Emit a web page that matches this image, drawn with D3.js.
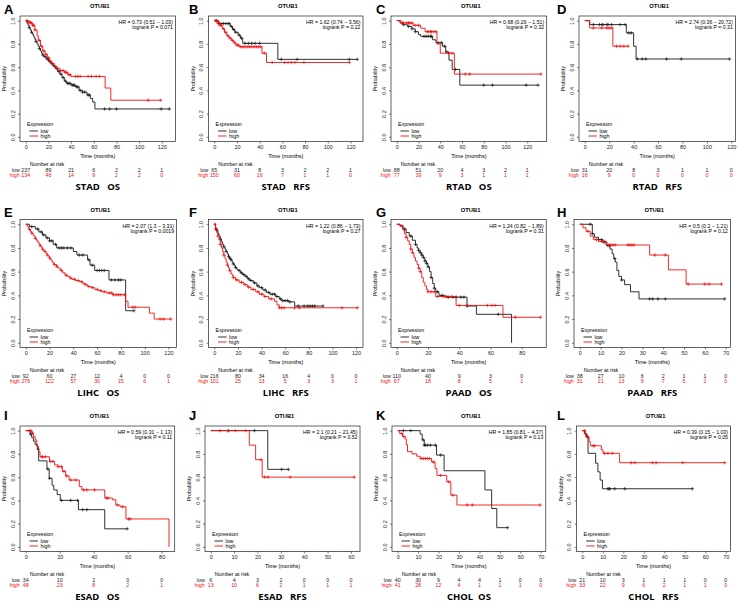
<!DOCTYPE html>
<html><head><meta charset="utf-8">
<script src="https://cdn.jsdelivr.net/npm/d3@7"></script>
<style>body{margin:0;background:#fff}svg{display:block}</style>
</head><body><svg id="c" width="738" height="603"></svg>
<script>
// ---------- DATA ----------
const letters = ["A","B","C","D","E","F","G","H","I","J","K","L"];
const cohorts = ["STAD   OS","STAD   RFS","RTAD   OS","RTAD   RFS","LIHC   OS","LIHC   RFS","PAAD   OS","PAAD   RFS","ESAD   OS","ESAD   RFS","CHOL  OS","CHOL   RFS"];
const gene = "OTUB1";
const hrText = ["HR = 0.73 (0.51 − 1.03)","HR = 1.62 (0.74 − 3.56)","HR = 0.68 (0.29 − 1.51)","HR = 2.74 (0.36 − 20.72)",
  "HR = 2.07 (1.3 − 3.31)","HR = 1.22 (0.86 − 1.73)","HR = 1.24 (0.82 − 1.89)","HR = 0.5 (0.2 − 1.21)",
  "HR = 0.59 (0.31 − 1.13)","HR = 2.1 (0.21 − 21.45)","HR = 1.85 (0.81 − 4.37)","HR = 0.39 (0.15 − 1.03)"];
const pText = ["logrank P = 0.071","logrank P = 0.22","logrank P = 0.32","logrank P = 0.31",
  "logrank P = 0.0019","logrank P = 0.27","logrank P = 0.31","logrank P = 0.12",
  "logrank P = 0.11","logrank P = 0.52","logrank P = 0.13","logrank P = 0.05"];
const xDataMax = [127,126,132.6,118.6,122,121,92,69.5,84.3,61.4,69.7,69.5];
const xTickMax = [120,120,120,120,120,120,80,70,80,60,70,70];
const xTickStep = [20,20,20,20,20,20,20,10,20,10,10,10];
const yTicks = [0,0.2,0.4,0.6,0.8,1.0];
const narLow = [[237,89,21,6,2,2,1],[65,31,8,3,2,2,1],[88,51,20,4,3,2,1],[31,20,8,3,1,1,0],
  [92,60,27,12,4,0,0],[216,80,34,16,4,0,0],[110,40,9,3,0],[38,27,10,6,2,1,1,0],
  [34,10,2,0,0],[6,4,3,2,0,0,0],[40,30,9,4,4,1,0,0],[21,10,3,1,1,1,0,0]];
const narHigh = [[134,46,14,9,2,2,0],[150,60,16,7,1,1,0],[77,39,9,3,1,1,1],[16,9,0,0,0,0,0],
  [276,122,57,30,15,6,1],[101,25,13,5,3,3,1],[67,18,8,5,1],[31,21,13,9,7,5,2,0],
  [48,23,8,2,1],[13,10,6,2,1,1,1],[41,28,12,4,1,1,1,0],[33,22,9,6,2,1,1,0]];

// survival curves: [time, survival after drop]; censor times
const stadOS_low = [[1,0.98],[2,0.96],[3,0.94],[4,0.92],[5,0.9],[6,0.88],[7,0.86],[8,0.84],[9,0.82],[10,0.8],[11,0.78],[12,0.76],[13,0.74],[14,0.72],[15,0.705],[16,0.69],[18,0.67],[20,0.65],[22,0.63],[24,0.61],[26,0.59],[28,0.565],[30,0.54],[32,0.51],[34,0.48],[36,0.46],[40,0.445],[44,0.43],[47,0.4],[50,0.385],[54,0.36],[57,0.33],[59,0.3],[61,0.24]];
const stadOS_lowCens = [3,5,9,12,15,17,19,21,23,25,27,29,31,33,35,37,38,39,41,42,43,45,46,48,50,52,55,56,69.6,74,80,119.4,126.7];
const stadOS_high = [[2,0.99],[4,0.98],[6,0.96],[8,0.92],[10,0.87],[11,0.83],[13,0.78],[15,0.74],[17,0.71],[19,0.68],[21,0.65],[23,0.63],[25,0.61],[27,0.59],[30,0.57],[34,0.555],[37,0.535],[40,0.52],[70,0.42],[75,0.315]];
const stadOS_highCens = [1,2,3,4,5,6,7,8,12,14,16,18,20,22,24,28,31,33,35,36,38,39,44,46,48,55,58,62,65,108,119];

const stadRFS_low = [[4,0.975],[14,0.95],[16,0.925],[18,0.9],[21,0.875],[23,0.85],[25,0.805],[56,0.667]];
const stadRFS_lowCens = [2,4,6,8,10,12,13,15,17,19,22,24,27,30,33,36,40,59,73,119,126];
const stadRFS_high = [[3,0.98],[5,0.96],[7,0.93],[9,0.9],[11,0.87],[13,0.85],[15,0.83],[17,0.81],[19,0.79],[22,0.775],[42,0.72],[46,0.64]];
const stadRFS_highCens = [1,2,3,5,6,8,10,12,14,16,18,20,21,23,25,27,29,31,33,35,37,39,41,44,51,62,65,68,71,79,119];

const rtadOS_low = [[3,0.98],[6,0.965],[10,0.95],[14,0.93],[17,0.905],[20,0.88],[22,0.865],[33,0.835],[36,0.81],[42,0.78],[45,0.73],[48,0.66],[51,0.58],[58,0.445]];
const rtadOS_lowCens = [6,11,14,17,25,27,29,31,32,38,41,44,46,54,80,88,119,130];
const rtadOS_high = [[4,0.98],[15,0.96],[22,0.935],[26,0.905],[37,0.8],[40,0.72],[53,0.54]];
const rtadOS_highCens = [5,6,9,11,12,14,17,20,28,29,31,32,34,36,48,51,63,67,132.6];

const rtadRFS_low = [[4,0.966],[34,0.895],[40,0.78],[42,0.67]];
const rtadRFS_lowCens = [7,12,14,15,18,19,22,29,33,36,38,43,47,50,67,79,118.6];
const rtadRFS_high = [[4,0.937],[23,0.78]];
const rtadRFS_highCens = [7,14,18,20,22,26,29,32,35.5];

const lihcOS_low = [[3,0.98],[8,0.96],[11,0.935],[14,0.91],[17,0.885],[20,0.86],[23,0.83],[26,0.8],[40,0.77],[43,0.74],[52,0.7],[54,0.655],[58,0.61],[70,0.53],[84,0.27]];
const lihcOS_lowCens = [5,10,13,15,18,20,22,25,28,30,32,35,38,45,48,53,56,60,62,64,66,72,75,78,80,91];
const lihcOS_high = [[1,0.985],[2,0.97],[3,0.955],[4,0.94],[5,0.925],[6,0.91],[7,0.895],[8,0.88],[9,0.865],[10,0.85],[11,0.835],[12,0.82],[13,0.805],[14,0.79],[15,0.78],[16,0.77],[17,0.755],[18,0.74],[19,0.73],[20,0.715],[21,0.7],[22,0.685],[23,0.67],[24,0.66],[26,0.645],[27,0.63],[29,0.61],[31,0.59],[33,0.57],[35,0.56],[37,0.545],[39,0.535],[42,0.525],[45,0.515],[48,0.5],[50,0.49],[52,0.475],[55,0.465],[58,0.45],[61,0.44],[64,0.43],[68,0.42],[73,0.405],[84,0.35],[86,0.3],[104,0.25],[108,0.2]];
const lihcOS_highCens = [3,5,8,12,14,16,18,20,24,26,30,34,38,41,44,47,50,53,56,60,63,66,70,72,74,76,78,80,83,90,92,113,116,122];

const lihcRFS_low = [[1,0.97],[2,0.95],[3,0.92],[4,0.9],[5,0.875],[6,0.85],[7,0.83],[8,0.81],[9,0.79],[10,0.77],[11,0.75],[12,0.73],[13,0.715],[14,0.7],[15,0.68],[16,0.665],[17,0.65],[18,0.635],[19,0.62],[20,0.61],[22,0.59],[24,0.575],[26,0.56],[28,0.54],[30,0.525],[33,0.505],[36,0.48],[38,0.465],[41,0.445],[44,0.425],[47,0.41],[52,0.39],[55,0.37],[57,0.355],[63,0.345],[68,0.31]];
const lihcRFS_lowCens = [2,5,8,10,12,13,14,16,18,21,23,25,27,29,31,34,37,40,43,46,49,51,53,56,58,60,62,64,71,76,79,81,83,85,92];
const lihcRFS_high = [[1,0.96],[2,0.93],[3,0.9],[4,0.87],[5,0.83],[6,0.8],[7,0.77],[8,0.74],[9,0.71],[10,0.68],[11,0.655],[12,0.63],[13,0.61],[14,0.585],[15,0.57],[16,0.55],[18,0.53],[21,0.51],[25,0.49],[28,0.47],[31,0.45],[35,0.43],[38,0.41],[42,0.39],[46,0.37],[51,0.35],[53,0.32],[55,0.295]];
const lihcRFS_highCens = [0.5,1,1.5,3,5,8,11,13,16,19,23,26,29,33,37,40,43,48,55,57,59,68,72,108,121];

const paadOS_low = [[2,0.99],[4,0.96],[6,0.93],[8,0.9],[10,0.865],[12,0.83],[13,0.8],[14,0.78],[15,0.76],[16,0.74],[17,0.72],[18,0.69],[19,0.67],[20,0.64],[21,0.6],[22,0.55],[23,0.5],[24,0.46],[25,0.43],[27,0.4],[31,0.385],[45,0.31],[51,0.24],[73.5,0]];
const paadOS_lowCens = [5,9,12,14,15,16,17,18,19,20,22,24,26,29,33,36,38,41,43,45,65];
const paadOS_high = [[2,0.985],[4,0.95],[5,0.92],[6,0.89],[7,0.86],[8,0.83],[9,0.79],[10,0.76],[11,0.72],[12,0.69],[13,0.66],[14,0.63],[15,0.6],[16,0.55],[17,0.51],[18,0.48],[19,0.45],[20,0.43],[25,0.39],[38,0.315],[68,0.215]];
const paadOS_highCens = [3,6,9,10,14,15,20,22,24,26,30,32,35,40,45,58,61,63,76,92];

const paadRFS_low = [[6,0.92],[7,0.89],[9,0.87],[11,0.85],[13,0.82],[14.5,0.79],[15.5,0.75],[16.3,0.71],[17,0.68],[17.8,0.61],[18.7,0.56],[20,0.53],[21.5,0.49],[24.3,0.43],[28.4,0.37]];
const paadRFS_lowCens = [5,6,9,10.5,11.5,13.5,14.3,16.8,20,33.5,35,37.5,41,69.5];
const paadRFS_high = [[1.5,0.97],[3,0.94],[5,0.9],[6.5,0.87],[9,0.855],[12.5,0.825],[33.5,0.74],[42.5,0.615],[51,0.495]];
const paadRFS_highCens = [4,8,10.5,12,14,15,16,17,23,24,25,26,36,41,52,60,62,68];

const esadOS_low = [[2.5,0.97],[3.5,0.94],[4.5,0.91],[5.5,0.88],[6.8,0.84],[7.6,0.74],[12.5,0.67],[13.8,0.59],[15.5,0.53],[16.5,0.49],[18.5,0.45],[20.3,0.4],[31,0.32],[46.5,0.155]];
const esadOS_lowCens = [3,7.5,13,14,21,26.5,30.5,33.5,36,59.7];
const esadOS_high = [[3.5,0.98],[4.5,0.95],[5.5,0.92],[6.5,0.865],[7.5,0.82],[8.4,0.775],[14,0.735],[17,0.705],[19,0.69],[21.5,0.65],[23.5,0.61],[25.5,0.575],[31.5,0.52],[33,0.49],[46.5,0.42],[51,0.405],[53,0.36],[55.5,0.345],[59,0.24],[84.3,0]];
const esadOS_highCens = [2,3,4,9.5,10,11.5,14.5,16,19,21,22.5,24,26.5,29.5,34,36,40.5,47.5,48.5,54,57,60.5,61.5];

const esadRFS_low = [[24.4,0.667]];
const esadRFS_lowCens = [7.5,18.7,30.3,33.2];
const esadRFS_high = [[16.5,0.875],[19.2,0.75],[22,0.6]];
const esadRFS_highCens = [4,7.5,10.5,15,21.5,23,24.5,34,61.4];

const cholOS_low = [[11,0.97],[12,0.92],[13,0.875],[19,0.79],[22.7,0.655],[42.7,0.49],[46,0.33],[48.5,0.165]];
const cholOS_lowCens = [2.8,6.4,12.5,13,13.5,14.5,16,18.5,21,53.8];
const cholOS_high = [[1,0.975],[2.4,0.95],[3.6,0.93],[4.2,0.88],[4.8,0.82],[7,0.8],[9.3,0.78],[11,0.76],[16.6,0.73],[18.3,0.675],[19.2,0.615],[24,0.56],[26,0.445],[29,0.36]];
const cholOS_highCens = [2,3,11.5,12.5,13.5,14.5,15.5,17.5,21,25,27,34,36.5,69.7];

const cholRFS_low = [[1,0.975],[2,0.95],[2.8,0.805],[6.5,0.72],[7.6,0.645],[8.7,0.575],[9.8,0.5]];
const cholRFS_lowCens = [2.2,12.5,13,13.4,15.8,20.7,53.7];
const cholRFS_high = [[1.6,0.965],[2.4,0.94],[3.3,0.905],[3.9,0.87],[9.3,0.835],[10.1,0.805],[18.2,0.724]];
const cholRFS_highCens = [1,1.9,2.9,5.2,6,10.8,12.5,14.6,23.9,25.6,34.2,36,49,69.5];

const lowCurves = [stadOS_low,stadRFS_low,rtadOS_low,rtadRFS_low,lihcOS_low,lihcRFS_low,paadOS_low,paadRFS_low,esadOS_low,esadRFS_low,cholOS_low,cholRFS_low];
const lowCens = [stadOS_lowCens,stadRFS_lowCens,rtadOS_lowCens,rtadRFS_lowCens,lihcOS_lowCens,lihcRFS_lowCens,paadOS_lowCens,paadRFS_lowCens,esadOS_lowCens,esadRFS_lowCens,cholOS_lowCens,cholRFS_lowCens];
const highCurves = [stadOS_high,stadRFS_high,rtadOS_high,rtadRFS_high,lihcOS_high,lihcRFS_high,paadOS_high,paadRFS_high,esadOS_high,esadRFS_high,cholOS_high,cholRFS_high];
const highCens = [stadOS_highCens,stadRFS_highCens,rtadOS_highCens,rtadRFS_highCens,lihcOS_highCens,lihcRFS_highCens,paadOS_highCens,paadRFS_highCens,esadOS_highCens,esadRFS_highCens,cholOS_highCens,cholRFS_highCens];

// ---------- LAYOUT (styles) ----------
const frameX = [[20,175.5],[208.6,363],[391,546.7],[579,735.4],[20,176.6],[208.6,363],[391,546.2],[574,730.5],[20,174.7],[205,360],[392,545.8],[576.6,730.5]];
const frameY = [[16,141.5],[219.5,347.5],[426,551.5]];
const letterX = [4,189,376,557];
const RED = "#f01010", BLACK = "#1a1a1a";
const FONT = "'Liberation Sans', Arial, sans-serif";

const svg = d3.select("#c");

function survAt(steps, t){ let s=1; for(const [tt,ss] of steps){ if(tt<=t) s=ss; else break;} return s; }

for(let i=0;i<12;i++){
  const row = Math.floor(i/4), col = i%4;
  const [L,R] = frameX[i], [T,B] = frameY[row];
  const xm = xDataMax[i];
  const x = d3.scaleLinear().domain([-0.04*xm, 1.04*xm]).range([L,R]);
  const y = d3.scaleLinear().domain([-0.04, 1.04]).range([B,T]);
  const g = svg.append("g");

  // panel letter
  g.append("text").attr("x", letterX[col]).attr("y", frameY[row][0] - 2.5 + (row===2?-4:0) )
    .attr("font-family", FONT).attr("font-weight","bold").attr("font-size", 13).text(letters[i]);
  // title
  g.append("text").attr("x",(L+R)/2+2).attr("y", T-8).attr("text-anchor","middle")
    .attr("font-family",FONT).attr("font-weight","bold").attr("font-size",5.8).text(gene);

  // frame
  g.append("rect").attr("x",L).attr("y",T).attr("width",R-L).attr("height",B-T)
    .attr("fill","none").attr("stroke","#222").attr("stroke-width",0.7);

  // axes
  const xt = d3.range(0, xTickMax[i]+0.001, xTickStep[i]);
  const xAxis = d3.axisBottom(x).tickValues(xt).tickSize(2).tickPadding(1.5).tickFormat(d3.format("d"));
  const ga = g.append("g").attr("transform",`translate(0,${B})`).call(xAxis);
  ga.select(".domain").remove();
  ga.selectAll("line").attr("stroke","#222").attr("stroke-width",0.6);
  ga.selectAll("text").attr("font-family",FONT).attr("font-size",5.5).attr("fill","#222");
  const yAxis = d3.axisLeft(y).tickValues(yTicks).tickSize(2).tickPadding(1.5).tickFormat(d3.format(".1f"));
  const gy = g.append("g").attr("transform",`translate(${L},0)`).call(yAxis);
  gy.select(".domain").remove();
  gy.selectAll("line").attr("stroke","#222").attr("stroke-width",0.6);
  gy.selectAll("text").attr("font-family",FONT).attr("font-size",5.5).attr("fill","#222")
    .attr("text-anchor","middle").attr("dy",0).attr("x",0)
    .attr("transform", function(d){ return `translate(-5.5,0) rotate(-90)`; });
  // axis titles
  g.append("text").attr("transform",`translate(${L-14},${(T+B)/2}) rotate(-90)`).attr("text-anchor","middle")
    .attr("font-family",FONT).attr("font-size",5.5).text("Probability");
  g.append("text").attr("x",(L+R)/2).attr("y",B+16.5).attr("text-anchor","middle")
    .attr("font-family",FONT).attr("font-size",5.5).text("Time (months)");

  // HR text
  g.append("text").attr("x",R-2.5).attr("y",T+8).attr("text-anchor","end")
    .attr("font-family",FONT).attr("font-size",5.2).text(hrText[i]);
  g.append("text").attr("x",R-2.5).attr("y",T+13).attr("text-anchor","end")
    .attr("font-family",FONT).attr("font-size",5.2).text(pText[i]);

  // curves
  const line = d3.line().x(d=>x(d[0])).y(d=>y(d[1])).curve(d3.curveStepAfter);
  const groups = [[lowCurves[i], lowCens[i], BLACK],[highCurves[i], highCens[i], RED]];
  for(const [steps, cens, color] of groups){
    const endT = Math.max(steps[steps.length-1][0], d3.max(cens));
    const pts = [[0,1], ...steps, [endT, steps[steps.length-1][1]]];
    g.append("path").attr("d", line(pts)).attr("fill","none").attr("stroke",color).attr("stroke-width",0.9);
    const cs = 1.7;
    g.append("g").selectAll("path").data(cens).join("path")
      .attr("d", c => { const cx=x(c), cy=y(survAt(steps,c)); return `M${cx-cs},${cy}H${cx+cs}M${cx},${cy-cs}V${cy+cs}`; })
      .attr("stroke",color).attr("stroke-width",0.7);
  }

  // legend
  g.append("text").attr("x",L+7).attr("y",B-15.5).attr("font-family",FONT).attr("font-size",5.3).text("Expression");
  const lg = [["low",BLACK],["high",RED]];
  lg.forEach(([lab,color],k)=>{
    const yy = B-10.5+k*5;
    g.append("line").attr("x1",L+9.5).attr("x2",L+18).attr("y1",yy).attr("y2",yy).attr("stroke",color).attr("stroke-width",0.9);
    g.append("text").attr("x",L+20.5).attr("y",yy+1.8).attr("font-family",FONT).attr("font-size",5.3).text(lab);
  });

  // number at risk
  g.append("text").attr("x",x(0)+4).attr("y",B+24.5).attr("font-family",FONT).attr("font-size",5.3).text("Number at risk");
  const rows = [["low",narLow[i],BLACK],["high",narHigh[i],RED]];
  rows.forEach(([lab,vals,color],k)=>{
    const yy = B+30.5+k*5;
    g.append("text").attr("x",x(0)-6).attr("y",yy).attr("text-anchor","end").attr("font-family",FONT)
      .attr("font-size",5.3).attr("fill",color).text(lab);
    g.append("g").selectAll("text").data(vals).join("text")
      .attr("x",(d,j)=>x(j*xTickStep[i])).attr("y",yy).attr("text-anchor","middle")
      .attr("font-family",FONT).attr("font-size",5.3).attr("fill",color).text(d=>d);
  });

  // cohort label
  g.append("text").attr("x",(L+R)/2).attr("y",B+48).attr("text-anchor","middle").attr("xml:space","preserve")
    .style("white-space","pre").attr("font-family","'Open Sans', 'Liberation Sans', sans-serif").attr("font-weight","bold")
    .attr("font-size",9.5).text(cohorts[i]);
}
</script></body></html>
